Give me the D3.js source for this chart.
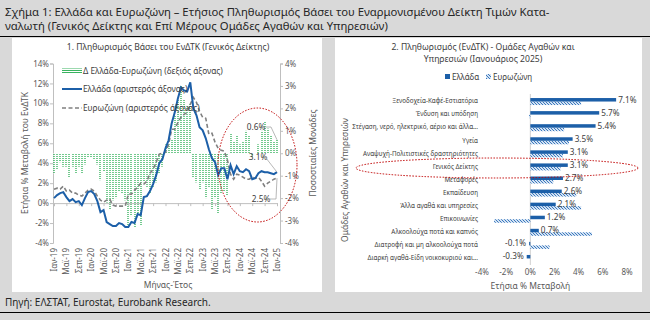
<!DOCTYPE html>
<html><head><meta charset="utf-8">
<script src="https://cdn.jsdelivr.net/npm/d3@7/dist/d3.min.js"></script>
<style>
body{margin:0;background:#d9d9d9}
svg{display:block}
text{font-family:"Noto Sans",sans-serif}
</style>
</head><body><svg id="c" width="650" height="320"></svg>
<script>
// ---------- DATA: chart 1 (monthly, Jan-19 .. Jan-25) ----------
const greece = [0.5,0.8,1.0,1.1,0.6,0.2,0.4,0.1,0.2,-0.2,0.5,1.1,
  1.2,0.9,0.2,-0.9,-0.7,-1.9,-2.1,-2.3,-2.3,-2.0,-2.1,-2.4,
  -2.4,-1.9,-2.0,-1.1,-1.2,0.6,0.7,1.2,1.9,2.8,4.0,4.4,
  5.5,6.3,8.0,9.1,10.5,11.6,11.3,11.2,12.1,9.5,8.8,7.6,
  7.3,6.5,5.4,4.5,4.1,2.8,3.5,3.5,2.4,3.8,2.9,3.7,
  3.2,3.1,3.4,3.2,2.4,2.5,3.0,3.2,3.1,3.1,3.0,2.9,
  3.1];
const eurozone = [1.4,1.5,1.4,1.7,1.2,1.3,1.0,1.0,0.8,0.7,1.0,1.3,
  1.4,1.2,0.7,0.3,0.1,0.3,0.4,-0.2,-0.3,-0.3,-0.3,-0.3,
  0.9,0.9,1.3,1.6,2.0,1.9,2.2,3.0,3.4,4.1,4.9,5.0,
  5.1,5.9,7.4,7.4,8.1,8.6,8.9,9.1,9.9,10.6,10.1,9.2,
  8.6,8.5,6.9,7.0,6.1,5.5,5.3,5.2,4.3,2.9,2.4,2.9,
  2.8,2.6,2.4,2.4,2.6,2.5,2.6,2.2,1.7,2.0,2.2,2.4,
  2.5];
const delta = [-0.9,-0.7,-0.4,-0.6,-0.6,-1.1,-0.6,-0.9,-0.6,-0.9,-0.5,-0.2,
  -0.2,-0.3,-0.5,-1.2,-0.8,-2.2,-2.5,-2.1,-2.0,-1.7,-1.8,-2.1,
  -3.3,-2.8,-3.3,-2.7,-3.2,-1.3,-1.5,-1.8,-1.5,-1.3,-0.9,-0.6,
  0.4,0.4,0.6,1.7,2.4,3.0,2.4,2.1,2.2,-1.1,-1.3,-1.6,
  -1.3,-2.0,-1.5,-2.5,-2.0,-2.7,-1.8,-1.7,-1.9,0.9,0.5,0.8,
  0.4,0.5,1.0,0.8,-0.2,0.0,0.4,1.0,1.4,1.1,0.8,0.5,
  0.6];
const xTickLabels = ["Ιαν-19","Μαϊ-19","Σεπ-19","Ιαν-20","Μαϊ-20","Σεπ-20","Ιαν-21","Μαϊ-21","Σεπ-21",
  "Ιαν-22","Μαϊ-22","Σεπ-22","Ιαν-23","Μαϊ-23","Σεπ-23","Ιαν-24","Μαϊ-24","Σεπ-24","Ιαν-25"];
const leftTicks = [-4,-2,0,2,4,6,8,10,12,14];
const rightTicks = [-4,-3,-2,-1,0,1,2,3,4];

// ---------- DATA: chart 2 ----------
const categories = ["Ξενοδοχεία-Καφέ-Εστιατόρια","Ένδυση και υπόδηση","Στέγαση, νερό, ηλεκτρικό, αέριο και άλλα...",
  "Υγεία","Αναψυχή-Πολιτιστικές δραστηριότητες","Γενικός Δείκτης","Μεταφορές","Εκπαίδευση",
  "Άλλα αγαθά και υπηρεσίες","Επικοινωνίες","Αλκοολούχα ποτά και καπνός","Διατροφή και μη αλκοολούχα ποτά",
  "Διαρκή αγαθά-Είδη νοικοκυριού και..."];
const catGreece = [7.1,5.7,5.4,3.5,3.1,3.1,2.7,2.6,2.1,1.2,0.7,-0.1,-0.3];
const catEurozone = [4.2,-0.1,2.8,3.2,2.7,2.5,1.9,3.8,4.2,-3.0,5.1,1.6,0.0];
const catTicks = [-4,-2,0,2,4,6,8];

const svg = d3.select("#c");
const defs = svg.append("defs");
// green dotted pattern
const pg = defs.append("pattern").attr("id","gh").attr("patternUnits","userSpaceOnUse").attr("width",2).attr("height",2);
pg.append("rect").attr("width",2).attr("height",2).attr("fill","#ffffff");
pg.append("rect").attr("width",2).attr("height",1).attr("fill","#39b35f");
// blue hatch pattern
const pb = defs.append("pattern").attr("id","bh").attr("patternUnits","userSpaceOnUse").attr("width",3).attr("height",3);
pb.append("rect").attr("width",3).attr("height",3).attr("fill","#d3e2f3");
[[0,0],[1,1],[2,2]].forEach(p=>pb.append("rect").attr("x",p[0]).attr("y",p[1]).attr("width",1).attr("height",1).attr("fill","#3a78bd"));

const GREY="#595959", AX="#bfbfbf", BLUE="#1c5fa8";

// background & panels
svg.append("rect").attr("width",650).attr("height",320).attr("fill","#d9d9d9");
svg.append("line").attr("x1",0).attr("x2",650).attr("y1",36.5).attr("y2",36.5).attr("stroke","#000").attr("stroke-width",1);
svg.append("line").attr("x1",0).attr("x2",650).attr("y1",312.5).attr("y2",312.5).attr("stroke","#000").attr("stroke-width",1);
svg.append("rect").attr("x",12).attr("y",38).attr("width",310).attr("height",254).attr("fill","#fff");
svg.append("rect").attr("x",335).attr("y",38).attr("width",307).attr("height",254).attr("fill","#fff");

svg.append("text").attr("x",5).attr("y",16).attr("font-size",11.3).attr("fill","#262626")
  .text("Σχήμα 1: Ελλάδα και Ευρωζώνη – Ετήσιος Πληθωρισμός Βάσει του Εναρμονισμένου Δείκτη Τιμών Κατα-");
svg.append("text").attr("x",5).attr("y",30).attr("font-size",11.3).attr("fill","#262626")
  .text("ναλωτή (Γενικός Δείκτης και Επί Μέρους Ομάδες Αγαθών και Υπηρεσιών)");
svg.append("text").attr("x",5).attr("y",306).attr("font-size",10).attr("fill","#262626")
  .text("Πηγή: ΕΛΣΤΑΤ, Eurostat, Eurobank Research.");

// ---------- Chart 1 ----------
const x = d3.scaleLinear().domain([0,72]).range([54,277]);
const yL = d3.scaleLinear().domain([-4,14]).range([243,63.5]);
const yR = d3.scaleLinear().domain([-4,4]).range([243,63.5]);
const g1 = svg.append("g");

g1.append("text").attr("x",168).attr("y",50).attr("text-anchor","middle").attr("font-size",8.6).attr("fill","#404040")
  .text("1. Πληθωρισμός Βάσει του ΕνΔΤΚ (Γενικός Δείκτης)");

// left axis
const la = g1.append("g").attr("transform","translate(53,0)").call(d3.axisLeft(yL).tickValues(leftTicks).tickSize(3).tickFormat(d=>d+"%"));
// right axis
const ra = g1.append("g").attr("transform","translate(280,0)").call(d3.axisRight(yR).tickValues(rightTicks).tickSize(3).tickFormat(d=>d+"%"));
[la,ra].forEach(a=>{a.select(".domain").attr("stroke",AX);a.selectAll("line").attr("stroke",AX);
  a.selectAll("text").attr("fill",GREY).attr("font-size",8).attr("font-family","Noto Sans");});
la.selectAll("text").attr("x",-4);
ra.selectAll("text").attr("x",5);

// bars
g1.append("g").selectAll("rect").data(delta).join("rect")
  .attr("x",(d,i)=>Math.round(x(i))-0.7).attr("width",1.4)
  .attr("y",d=>Math.min(yR(d),yR(0))).attr("height",d=>Math.abs(yR(d)-yR(0)))
  .attr("fill","url(#gh)");

// x axis at 0 on left scale
const xa = g1.append("g").attr("transform",`translate(0,${yL(0)})`)
  .call(d3.axisBottom(x).tickValues(d3.range(0,73,4)).tickSize(3).tickFormat(""));
xa.select(".domain").attr("stroke",AX); xa.selectAll("line").attr("stroke",AX);
g1.append("g").selectAll("text").data(xTickLabels).join("text")
  .attr("transform",(d,i)=>`translate(${x(i*4)+3},248) rotate(-90)`)
  .attr("text-anchor","end").attr("font-size",8).attr("fill",GREY).text(d=>d);

// lines
const line = arr => d3.line().x((d,i)=>x(i)).y(d=>yL(d))(arr);
g1.append("path").attr("d",line(eurozone)).attr("fill","none").attr("stroke","#808080").attr("stroke-width",1.6).attr("stroke-dasharray","4,2.5");
g1.append("path").attr("d",line(greece)).attr("fill","none").attr("stroke",BLUE).attr("stroke-width",2);

// axis titles
g1.append("text").attr("transform","translate(28,153) rotate(-90)").attr("text-anchor","middle").attr("font-size",8.5).attr("fill",GREY)
  .text("Ετήσια % Μεταβολή του ΕνΔΤΚ");
g1.append("text").attr("transform","translate(316,153) rotate(-90)").attr("text-anchor","middle").attr("font-size",8.5).attr("fill",GREY)
  .text("Ποσοστιαίες Μονάδες");
g1.append("text").attr("x",168).attr("y",288).attr("text-anchor","middle").attr("font-size",8.5).attr("fill",GREY).text("Μήνας-Έτος");

// legend
const lg = g1.append("g");
lg.append("rect").attr("x",62).attr("y",68.5).attr("width",20).attr("height",5).attr("fill","url(#gh)");
lg.append("text").attr("x",83).attr("y",74).attr("font-size",8.3).attr("fill","#404040").text("Δ Ελλάδα-Ευρωζώνη (δεξιός άξονας)");
lg.append("line").attr("x1",62).attr("x2",82).attr("y1",89).attr("y2",89).attr("stroke",BLUE).attr("stroke-width",2);
lg.append("text").attr("x",83).attr("y",92).attr("font-size",8.3).attr("fill","#404040").text("Ελλάδα (αριστερός άξονας)");
lg.append("line").attr("x1",62).attr("x2",82).attr("y1",108).attr("y2",108).attr("stroke","#808080").attr("stroke-width",1.6).attr("stroke-dasharray","4,2.5");
lg.append("text").attr("x",83).attr("y",111).attr("font-size",8.3).attr("fill","#404040").text("Ευρωζώνη (αριστερός άξονας)");

// callouts
const last = 72;
const co = g1.append("g").attr("font-size",8.3).attr("fill","#404040");
co.append("text").attr("x",256).attr("y",130).attr("text-anchor","middle").text(delta[last].toFixed(1)+"%");
co.append("polyline").attr("points",`266,127 271,127 ${x(last)},${yR(delta[last])}`).attr("fill","none").attr("stroke","#a6a6a6").attr("stroke-width",0.8);
co.append("text").attr("x",258).attr("y",160).attr("text-anchor","middle").text(greece[last].toFixed(1)+"%");
co.append("polyline").attr("points",`266,158 ${x(last)},${yL(greece[last])}`).attr("fill","none").attr("stroke","#a6a6a6").attr("stroke-width",0.8);
co.append("text").attr("x",261).attr("y",202).attr("text-anchor","middle").text(eurozone[last].toFixed(1)+"%");
co.append("polyline").attr("points",`270,199 276,199 ${x(last)},${yL(eurozone[last])}`).attr("fill","none").attr("stroke","#a6a6a6").attr("stroke-width",0.8);

g1.append("ellipse").attr("cx",257.5).attr("cy",165).attr("rx",39.5).attr("ry",57).attr("fill","none")
  .attr("stroke","#c00000").attr("stroke-width",1).attr("stroke-dasharray","1.5,1.5");

// ---------- Chart 2 ----------
const g2 = svg.append("g");
g2.append("text").attr("x",483).attr("y",50).attr("text-anchor","middle").attr("font-size",8.6).attr("fill","#404040")
  .text("2. Πληθωρισμός (ΕνΔΤΚ) - Ομάδες Αγαθών και");
g2.append("text").attr("x",483).attr("y",62).attr("text-anchor","middle").attr("font-size",8.6).attr("fill","#404040")
  .text("Υπηρεσιών (Ιανουάριος 2025)");
// legend
g2.append("rect").attr("x",445).attr("y",74).attr("width",5).attr("height",5).attr("fill",BLUE);
g2.append("text").attr("x",452).attr("y",79.5).attr("font-size",8).attr("fill","#404040").text("Ελλάδα");
g2.append("rect").attr("x",486).attr("y",74).attr("width",5).attr("height",5).attr("fill","url(#bh)");
g2.append("text").attr("x",493).attr("y",79.5).attr("font-size",8).attr("fill","#404040").text("Ευρωζώνη");

const xb = d3.scaleLinear().domain([-4,8]).range([482,627]);
const yb = d3.scaleBand().domain(categories).range([94.5,264.5]);
const cy = d => yb(d)+yb.bandwidth()/2;

g2.append("line").attr("x1",xb(0)).attr("x2",xb(0)).attr("y1",94).attr("y2",265).attr("stroke","#d0d0d0");

g2.append("g").selectAll("rect").data(catEurozone).join("rect")
  .attr("x",d=>Math.min(xb(d),xb(0))).attr("width",d=>Math.abs(xb(d)-xb(0)))
  .attr("y",(d,i)=>cy(categories[i])+0.5).attr("height",3.5).attr("fill","url(#bh)");
g2.append("g").selectAll("rect").data(catGreece).join("rect")
  .attr("x",d=>Math.min(xb(d),xb(0))).attr("width",d=>Math.abs(xb(d)-xb(0)))
  .attr("y",(d,i)=>cy(categories[i])-3).attr("height",3.5).attr("fill",BLUE);

g2.append("g").selectAll("text").data(categories).join("text")
  .attr("x",478).attr("y",d=>cy(d)+2.3).attr("text-anchor","end").attr("font-size",6.3).attr("fill","#404040").text(d=>d);

g2.append("g").selectAll("text").data(catGreece).join("text")
  .attr("x",d=>d>=0?xb(d)+2:xb(d)-3).attr("y",(d,i)=>cy(categories[i])+1.5)
  .attr("text-anchor",d=>d>=0?"start":"end").attr("font-size",8.2).attr("fill","#404040").text(d=>d.toFixed(1)+"%");

g2.append("g").selectAll("text").data(catTicks).join("text")
  .attr("x",d=>xb(d)).attr("y",275).attr("text-anchor","middle").attr("font-size",8).attr("fill",GREY).text(d=>d+"%");
g2.append("text").attr("x",xb(0)).attr("y",289).attr("text-anchor","middle").attr("font-size",8.5).attr("fill",GREY).text("Ετήσια % Μεταβολή");
g2.append("text").attr("transform","translate(348,180) rotate(-90)").attr("text-anchor","middle").attr("font-size",8.5).attr("fill",GREY)
  .text("Ομάδες Αγαθών και Υπηρεσιών");

g2.append("ellipse").attr("cx",497).attr("cy",168).attr("rx",141).attr("ry",10).attr("fill","none")
  .attr("stroke","#c00000").attr("stroke-width",1).attr("stroke-dasharray","1.5,1.5");
</script></body></html>
